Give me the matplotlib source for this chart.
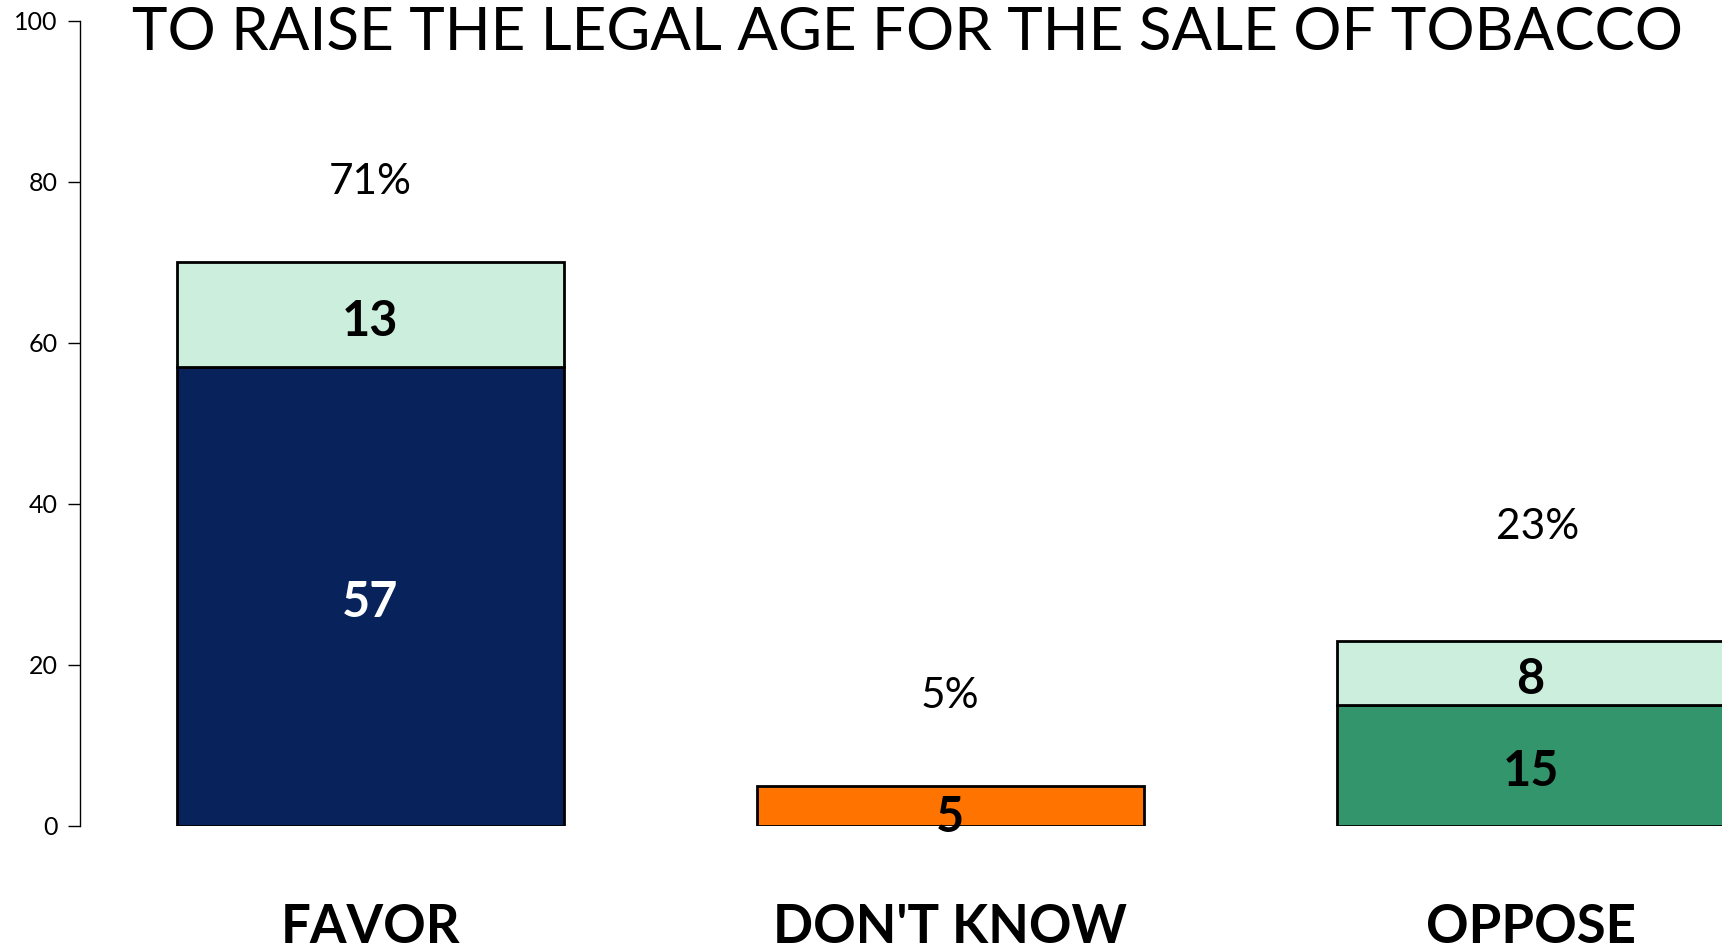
import numpy as np, matplotlib
matplotlib.use("Agg")
import matplotlib.pyplot as plt

plt.rcParams['font.family'] = ['Lato', 'DejaVu Sans']

categories = ['FAVOR', "DON'T KNOW", 'OPPOSE']
strong = [57, 5, 15]          # bottom segment
somewhat = [13, 0, 8]         # top segment
totals = ['71%', '5%', '23%']
bottom_colors = ['#08235C', '#FF7300', '#33956B']
top_color = '#CCEEDD'
seg_text_colors = ['white', 'black', 'black']

fig = plt.figure(figsize=(17.22, 9.52), dpi=100)
ax = fig.add_axes([0.0465, 0.1324, 0.9535, 0.8456])

x = np.arange(len(categories))
w = 0.667
ax.bar(x, strong, w, color=bottom_colors, edgecolor='black', linewidth=2, zorder=2)
ax.bar(x, somewhat, w, bottom=strong, color=top_color, edgecolor='black', linewidth=2, zorder=2)
# don't-know has no top segment, hide its zero-height patch
ax.patches[-2].set_visible(False)

# label nudges in points (the thin orange bar pushes its label down)
seg_dy = [-4.5, -8.7, -4.5]
for i in range(len(x)):
    ax.annotate(str(strong[i]), (x[i], strong[i] / 2), xytext=(0, seg_dy[i]),
                textcoords='offset points', ha='center', va='center',
                fontsize=35, fontweight='bold', color=seg_text_colors[i], zorder=3)
    if somewhat[i]:
        ax.annotate(str(somewhat[i]), (x[i], strong[i] + somewhat[i] / 2), xytext=(0, -4.5),
                    textcoords='offset points', ha='center', va='center',
                    fontsize=35, fontweight='bold', color='black', zorder=3)

# percent totals above bars
off = [10.0, 11.2, 14.1]
dx = [0, 0, 0.012]
for i in range(len(x)):
    ax.text(x[i] + dx[i], strong[i] + somewhat[i] + off[i], totals[i], ha='center', va='center',
            fontsize=30.5, color='black')

ax.set_xlim(-0.5, 2.33)
ax.set_ylim(0, 100)
ax.set_yticks(range(0, 101, 20))
ax.tick_params(axis='y', labelsize=18, length=9, width=1, pad=7)
ax.set_xticks(x)
ax.set_xticklabels(categories, fontsize=38, fontweight='bold')
ax.tick_params(axis='x', length=0, pad=55.5)
for s in ['top', 'right', 'bottom']:
    ax.spines[s].set_visible(False)
ax.spines['left'].set_linewidth(1)

fig.text(0.527, 0.9655, 'TO RAISE THE LEGAL AGE FOR THE SALE OF TOBACCO',
         ha='center', va='center', fontsize=43.3)

fig.savefig('out.png', dpi=100)
